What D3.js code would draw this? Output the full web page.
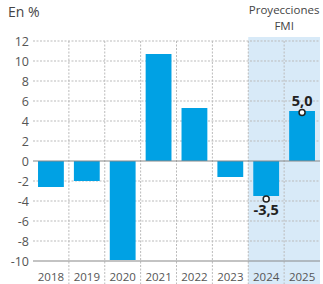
<!DOCTYPE html>
<html>
<head>
<meta charset="utf-8">
<script src="https://cdn.jsdelivr.net/npm/d3@7"></script>
<style>
  body { margin: 0; background: #fff; }
  svg { display: block; font-family: "Open Sans", sans-serif; }
</style>
</head>
<body>
<svg class="chart" width="323" height="284"></svg>
<script>
var years = ["2018", "2019", "2020", "2021", "2022", "2023", "2024", "2025"];
var growth = [-2.6, -2.0, -9.9, 10.7, 5.3, -1.6, -3.5, 5.0];
var yTicks = [-10, -8, -6, -4, -2, 0, 2, 4, 6, 8, 10, 12];
var projected = ["2024", "2025"];
var callouts = [{ year: "2024", value: -3.5, label: "-3,5" }, { year: "2025", value: 5.0, label: "5,0" }];

var svg = d3.select(".chart");

var x = d3.scaleBand().domain(years).range([33, 320]).padding(0);
var y = d3.scaleLinear().domain([-10, 12]).range([261, 41]);
var barW = x.bandwidth() * 0.72;

// projection background
svg.append("rect")
  .attr("x", x(projected[0]))
  .attr("y", 37)
  .attr("width", x(projected[1]) + x.bandwidth() - x(projected[0]))
  .attr("height", 284 - 37)
  .attr("fill", "#d8eaf8");

svg.append("text")
  .attr("x", x(projected[0]) + x.bandwidth())
  .attr("y", 14)
  .attr("text-anchor", "middle")
  .attr("font-size", 11.5)
  .attr("fill", "#444")
  .text("Proyecciones");
svg.append("text")
  .attr("x", x(projected[0]) + x.bandwidth())
  .attr("y", 30)
  .attr("text-anchor", "middle")
  .attr("font-size", 11.5)
  .attr("fill", "#444")
  .text("FMI");

// horizontal grid
svg.append("g").selectAll("line")
  .data(yTicks.filter(function(d){ return d !== 0 && d !== -10; }))
  .join("line")
    .attr("x1", 33).attr("x2", 320)
    .attr("y1", function(d){ return y(d); })
    .attr("y2", function(d){ return y(d); })
    .attr("stroke", "#bbb")
    .attr("stroke-dasharray", "2,1.5");

// vertical grid at band edges
svg.append("g").selectAll("line")
  .data(years.slice(1))
  .join("line")
    .attr("x1", function(d){ return x(d); })
    .attr("x2", function(d){ return x(d); })
    .attr("y1", 41).attr("y2", 284)
    .attr("stroke", "#bbb")
    .attr("stroke-dasharray", "2,1.5");

// bars
svg.append("g").selectAll("rect")
  .data(growth)
  .join("rect")
    .attr("x", function(d, i){ return x(years[i]) + (x.bandwidth() - barW) / 2; })
    .attr("y", function(d){ return y(Math.max(0, d)); })
    .attr("width", barW)
    .attr("height", function(d){ return Math.abs(y(d) - y(0)); })
    .attr("fill", "#00a1e4");

// zero line and bottom line
[0, -10].forEach(function(v){
  svg.append("line")
    .attr("x1", 33).attr("x2", 320)
    .attr("y1", y(v)).attr("y2", y(v))
    .attr("stroke", "#888")
    .attr("stroke-width", 1.2);
});

// y tick labels
svg.append("g").selectAll("text")
  .data(yTicks)
  .join("text")
    .attr("x", 29)
    .attr("y", function(d){ return y(d) + 4.5; })
    .attr("text-anchor", "end")
    .attr("font-size", 12.5)
    .attr("fill", "#555")
    .text(function(d){ return d; });

// x labels
svg.append("g").selectAll("text")
  .data(years)
  .join("text")
    .attr("x", function(d){ return x(d) + x.bandwidth() / 2; })
    .attr("y", 281)
    .attr("text-anchor", "middle")
    .attr("font-size", 11.5)
    .attr("fill", "#555")
    .text(function(d){ return d; });

svg.append("text")
  .attr("x", 8).attr("y", 17)
  .attr("font-size", 14)
  .attr("fill", "#444")
  .text("En %");

// callouts
callouts.forEach(function(c){
  var cx = x(c.year) + x.bandwidth() / 2;
  var cy = y(c.value) + (c.value < 0 ? 3 : 1.5);
  svg.append("circle")
    .attr("cx", cx).attr("cy", cy).attr("r", 3)
    .attr("fill", "#fff")
    .attr("stroke", "#222")
    .attr("stroke-width", 1.5);
  svg.append("text")
    .attr("x", cx)
    .attr("y", c.value < 0 ? cy + 16 : cy - 7)
    .attr("text-anchor", "middle")
    .attr("font-size", 14.5)
    .attr("font-weight", "bold")
    .attr("fill", "#222")
    .text(c.label);
});
</script>
</body>
</html>
